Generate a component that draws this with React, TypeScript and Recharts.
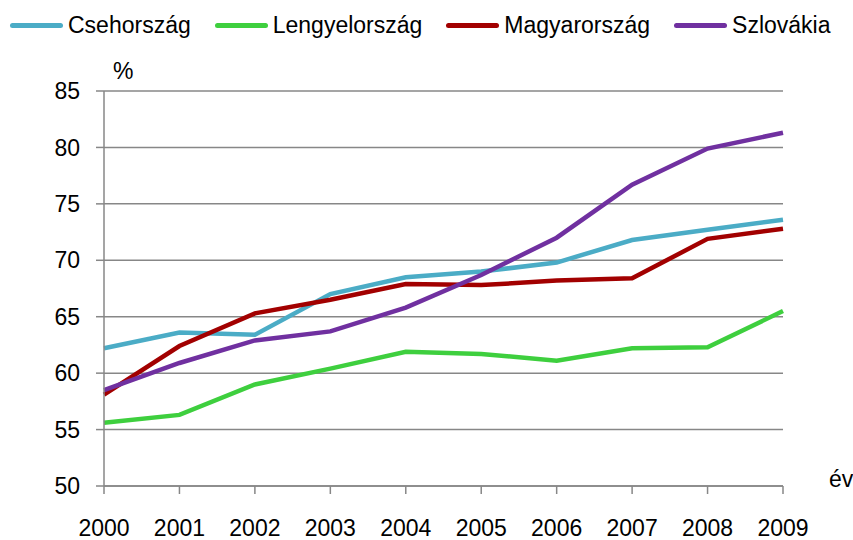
import React from 'react';
import { LineChart, Line, XAxis, YAxis, CartesianGrid } from 'recharts';

const years = ['2000', '2001', '2002', '2003', '2004', '2005', '2006', '2007', '2008', '2009'];
const csehorszag = [62.2, 63.6, 63.4, 67.0, 68.5, 69.0, 69.8, 71.8, 72.7, 73.6];
const lengyelorszag = [55.6, 56.3, 59.0, 60.4, 61.9, 61.7, 61.1, 62.2, 62.3, 65.5];
const magyarorszag = [58.1, 62.4, 65.3, 66.5, 67.9, 67.8, 68.2, 68.4, 71.9, 72.8];
const szlovakia = [58.5, 60.9, 62.9, 63.7, 65.8, 68.7, 72.0, 76.7, 79.9, 81.3];
const yTicks = [50, 55, 60, 65, 70, 75, 80, 85];

const series = [
  { key: 'cz', name: 'Csehország', color: '#4BACC6', values: csehorszag },
  { key: 'pl', name: 'Lengyelország', color: '#3ECF3E', values: lengyelorszag },
  { key: 'hu', name: 'Magyarország', color: '#A20000', values: magyarorszag },
  { key: 'sk', name: 'Szlovákia', color: '#7030A0', values: szlovakia },
];

const data = years.map((year, i) => {
  const row: Record<string, string | number> = { year };
  series.forEach((s) => {
    row[s.key] = s.values[i];
  });
  return row;
});

const FONT = '"Liberation Sans", Arial, sans-serif';
const GRID = '#878787';

const App: React.FC = () => {
  return (
    <div style={{ position: 'absolute', left: 0, top: 0, width: 853, height: 540, fontFamily: FONT, background: '#fff' }}>
      {/* legend */}
      <div style={{ position: 'absolute', left: 10, top: 11, display: 'flex', alignItems: 'center', gap: 24 }}>
        {series.map((s) => (
          <div key={s.key} style={{ display: 'flex', alignItems: 'center' }}>
            <div style={{ width: 53, height: 5, borderRadius: 3, background: s.color, marginRight: 5 }} />
            <span style={{ fontSize: 23, lineHeight: '28px', color: '#000' }}>{s.name}</span>
          </div>
        ))}
      </div>

      <div style={{ position: 'absolute', left: 113, top: 58, fontSize: 23, color: '#000' }}>%</div>
      <div style={{ position: 'absolute', left: 829, top: 466, fontSize: 23, color: '#000' }}>év</div>

      <LineChart width={853} height={540} data={data} margin={{ top: 91, right: 70, bottom: 10, left: 0 }}>
        <CartesianGrid vertical={false} stroke={GRID} strokeWidth={1.5} />
        <XAxis
          dataKey="year"
          stroke={GRID}
          strokeWidth={1.5}
          height={44}
          tickSize={8}
          tickMargin={26}
          tick={{ fontSize: 23, fill: '#000', fontFamily: FONT }}
          interval={0}
        />
        <YAxis
          domain={[50, 85]}
          ticks={yTicks}
          width={104}
          stroke={GRID}
          strokeWidth={1.5}
          tickSize={8}
          tickMargin={16}
          tick={{ fontSize: 23, fill: '#000', fontFamily: FONT }}
          interval={0}
        />
        {series.map((s) => (
          <Line
            key={s.key}
            dataKey={s.key}
            name={s.name}
            stroke={s.color}
            strokeWidth={4.5}
            dot={false}
            type="linear"
            isAnimationActive={false}
          />
        ))}
      </LineChart>
    </div>
  );
};

export default App;
